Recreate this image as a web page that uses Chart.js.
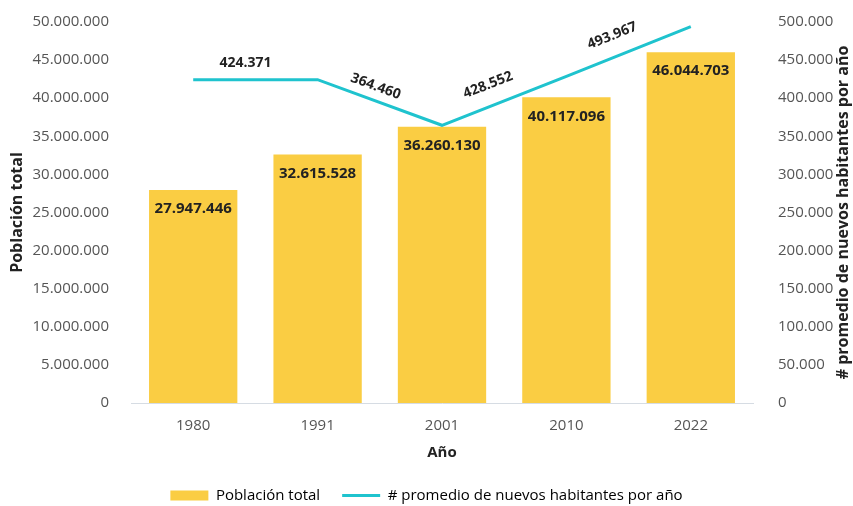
<!DOCTYPE html>
<html>
<head>
<meta charset="utf-8">
<script src="https://cdn.jsdelivr.net/npm/chart.js@4.4.0/dist/chart.umd.min.js"></script>
<style>
html, body { margin: 0; padding: 0; background: #fff; }
</style>
</head>
<body>
<canvas id="chart" width="853" height="506"></canvas>
<script>
// Datos del gráfico
var anios = ['1980', '1991', '2001', '2010', '2022'];
var poblacionTotal = [27947446, 32615528, 36260130, 40117096, 46044703];
var promedioLinea = [424371, 424371, 364460, 428552, 493967];
var promedioTramos = [424371, 364460, 428552, 493967];
var maxIzq = 50000000, pasoIzq = 5000000;
var maxDer = 500000, pasoDer = 50000;

var amarillo = '#FACD43';
var turquesa = '#1FC3CE';
var fuente = "'Open Sans', sans-serif";

function fmt(n) {
    return String(n).replace(/\B(?=(\d{3})+(?!\d))/g, '.');
}

// Etiquetas de barras y de la línea, y título del eje derecho
var etiquetas = {
    id: 'etiquetas',
    afterDatasetsDraw: function(chart) {
        var ctx = chart.ctx;
        ctx.save();
        ctx.fillStyle = '#222';
        ctx.textAlign = 'center';
        ctx.textBaseline = 'middle';

        ctx.font = 'bold 15px ' + fuente;
        chart.getDatasetMeta(0).data.forEach(function(bar, i) {
            ctx.fillText(fmt(poblacionTotal[i]), bar.x, bar.y + 19);
        });

        ctx.font = 'bold 14px ' + fuente;
        var pts = chart.getDatasetMeta(1).data;
        promedioTramos.forEach(function(v, i) {
            var a = pts[i], b = pts[i + 1];
            var ang = Math.atan2(b.y - a.y, b.x - a.x);
            var mx = (a.x + b.x) / 2 - 10, my = (a.y + b.y) / 2;
            ctx.save();
            ctx.translate(mx + Math.sin(ang) * 17, my - Math.cos(ang) * 17);
            ctx.rotate(ang);
            ctx.fillText(fmt(v), 0, 0);
            ctx.restore();
        });

        ctx.font = 'bold 16px ' + fuente;
        ctx.translate(843, (chart.chartArea.top + chart.chartArea.bottom) / 2);
        ctx.rotate(-Math.PI / 2);
        ctx.fillText('# promedio de nuevos habitantes por año', 0, 0);
        ctx.restore();
    }
};

function ajustarEje(ancho) {
    return function(scale) {
        scale.width = ancho;
        scale.paddingTop = 0;
        scale.paddingBottom = 0;
    };
}

var ctx = document.getElementById('chart').getContext('2d');
new Chart(ctx, {
    type: 'bar',
    data: {
        labels: anios,
        datasets: [{
            type: 'bar',
            label: 'Población total',
            data: poblacionTotal,
            backgroundColor: amarillo,
            borderWidth: 0,
            barPercentage: 0.71,
            categoryPercentage: 1,
            yAxisID: 'y',
            order: 2
        }, {
            type: 'line',
            label: '# promedio de nuevos habitantes por año',
            data: promedioLinea,
            borderColor: turquesa,
            backgroundColor: turquesa,
            borderWidth: 3,
            pointRadius: 0,
            tension: 0,
            yAxisID: 'y1',
            order: 1
        }]
    },
    options: {
        responsive: false,
        animation: false,
        layout: { padding: { top: 22, left: 0, right: 0, bottom: -7 } },
        plugins: {
            tooltip: { enabled: false },
            legend: {
                position: 'bottom',
                labels: {
                    usePointStyle: true,
                    pointStyleWidth: 38,
                    boxHeight: 10,
                    padding: 22,
                    color: '#444',
                    font: { family: fuente, size: 15 },
                    generateLabels: function() {
                        return [{
                            text: 'Población total',
                            fillStyle: amarillo,
                            strokeStyle: amarillo,
                            lineWidth: 0,
                            pointStyle: 'rect',
                            datasetIndex: 0
                        }, {
                            text: '# promedio de nuevos habitantes por año',
                            fillStyle: turquesa,
                            strokeStyle: turquesa,
                            lineWidth: 3,
                            pointStyle: 'line',
                            datasetIndex: 1
                        }];
                    }
                }
            }
        },
        scales: {
            x: {
                grid: { display: false },
                border: { display: true, color: '#D6DCE3', width: 1 },
                ticks: { color: '#555', padding: 6, font: { family: fuente, size: 15 } },
                title: {
                    display: true,
                    text: 'Año',
                    color: '#222',
                    padding: { top: 3, bottom: 4 },
                    font: { family: fuente, size: 15, weight: 'bold' }
                }
            },
            y: {
                position: 'left',
                min: 0,
                max: maxIzq,
                grid: { display: false },
                border: { display: false },
                afterFit: ajustarEje(131),
                ticks: {
                    stepSize: pasoIzq,
                    color: '#555',
                    padding: 14,
                    font: { family: fuente, size: 15 },
                    callback: function(v) { return fmt(v); }
                },
                title: {
                    display: true,
                    text: 'Población total',
                    color: '#222',
                    padding: { top: 8, bottom: 0 },
                    font: { family: fuente, size: 16, weight: 'bold' }
                }
            },
            y1: {
                position: 'right',
                min: 0,
                max: maxDer,
                grid: { display: false },
                border: { display: false },
                afterFit: ajustarEje(100),
                ticks: {
                    stepSize: pasoDer,
                    color: '#555',
                    padding: 17,
                    font: { family: fuente, size: 15 },
                    callback: function(v) { return fmt(v); }
                }
            }
        }
    },
    plugins: [etiquetas]
});
</script>
</body>
</html>
